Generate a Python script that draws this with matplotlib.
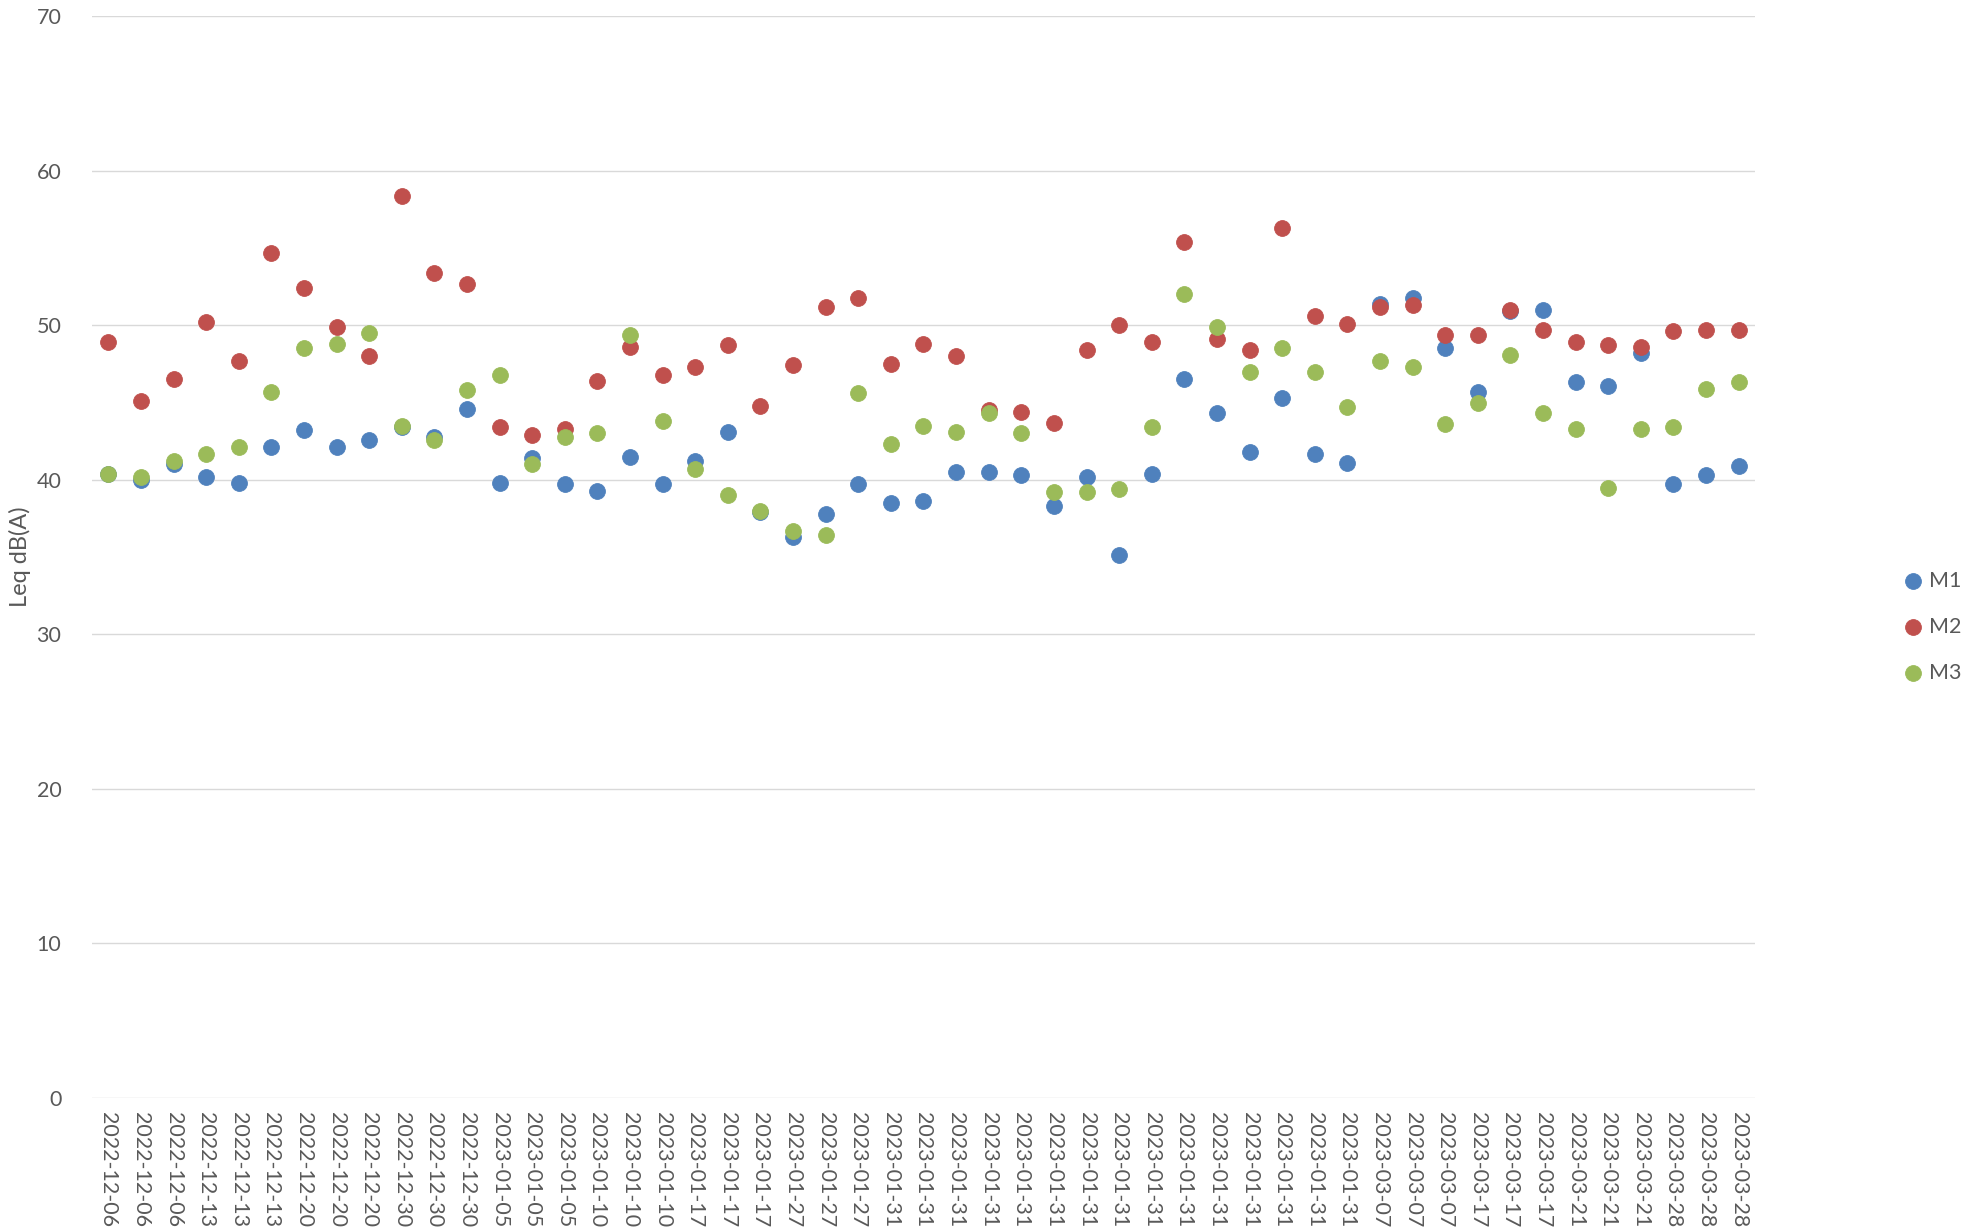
import matplotlib.pyplot as plt

dates = (["2022-12-06"] * 3 + ["2022-12-13"] * 3 + ["2022-12-20"] * 3
         + ["2022-12-30"] * 3 + ["2023-01-05"] * 3 + ["2023-01-10"] * 3
         + ["2023-01-17"] * 3 + ["2023-01-27"] * 3 + ["2023-01-31"] * 15
         + ["2023-03-07"] * 3 + ["2023-03-17"] * 3 + ["2023-03-21"] * 3
         + ["2023-03-28"] * 3)

m1 = [40.4, 40.0, 41.0, 40.2, 39.8, 42.1, 43.2, 42.1, 42.6, 43.4,
      42.8, 44.6, 39.8, 41.4, 39.7, 39.3, 41.5, 39.7, 41.2, 43.1,
      37.9, 36.3, 37.8, 39.7, 38.5, 38.6, 40.5, 40.5, 40.3, 38.3,
      40.2, 35.1, 40.4, 46.5, 44.3, 41.8, 45.3, 41.7, 41.1, 51.4,
      51.8, 48.5, 45.7, 50.9, 51.0, 46.3, 46.1, 48.2, 39.7, 40.3,
      40.9]
m2 = [48.9, 45.1, 46.5, 50.2, 47.7, 54.7, 52.4, 49.9, 48.0, 58.4,
      53.4, 52.7, 43.4, 42.9, 43.3, 46.4, 48.6, 46.8, 47.3, 48.7,
      44.8, 47.4, 51.2, 51.8, 47.5, 48.8, 48.0, 44.5, 44.4, 43.7,
      48.4, 50.0, 48.9, 55.4, 49.1, 48.4, 56.3, 50.6, 50.1, 51.2,
      51.3, 49.4, 49.4, 51.0, 49.7, 48.9, 48.7, 48.6, 49.6, 49.7,
      49.7]
m3 = [40.4, 40.2, 41.2, 41.7, 42.1, 45.7, 48.5, 48.8, 49.5, 43.5,
      42.6, 45.8, 46.8, 41.0, 42.8, 43.0, 49.4, 43.8, 40.7, 39.0,
      38.0, 36.7, 36.4, 45.6, 42.3, 43.5, 43.1, 44.3, 43.0, 39.2,
      39.2, 39.4, 43.4, 52.0, 49.9, 47.0, 48.5, 47.0, 44.7, 47.7,
      47.3, 43.6, 45.0, 48.1, 44.3, 43.3, 39.5, 43.3, 43.4, 45.9,
      46.3]

series = [("M1", m1, "#4F81BD"), ("M2", m2, "#C0504D"), ("M3", m3, "#9BBB59")]

plt.rcParams['font.family'] = ['Lato', 'DejaVu Sans']
txt = "#595959"

fig = plt.figure(figsize=(19.83, 12.29), dpi=100)
ax = fig.add_axes([0.0464, 0.1068, 0.8386, 0.8799])

x = list(range(len(dates)))
for name, vals, col in series:
    ax.scatter(x, vals, s=130, color=col, edgecolors=col, linewidths=0.6,
               label=name, zorder=3)

ax.set_xlim(-0.5, len(dates) - 0.5)
ax.set_ylim(0, 70)
ax.set_yticks(range(0, 71, 10))
ax.set_xticks(x)
ax.set_xticklabels(dates, rotation=270, fontsize=15.5, color=txt)
ax.tick_params(axis='y', labelsize=15.5, labelcolor=txt, length=0, pad=22)
ax.tick_params(axis='x', length=0, pad=10)
ax.grid(axis='y', color="#D9D9D9", linewidth=1.0, zorder=0)
ax.set_axisbelow(True)
for s in ax.spines.values():
    s.set_visible(False)
ax.set_ylabel("Leq dB(A)", fontsize=17, color=txt, labelpad=4)

fig.legend(loc='center left', bbox_to_anchor=(0.956, 0.49), frameon=False,
           fontsize=15.5, labelcolor=txt, handlelength=0.8, handletextpad=0.35,
           labelspacing=1.2, borderaxespad=0, markerscale=1.0)

fig.savefig("out.png", dpi=100)
